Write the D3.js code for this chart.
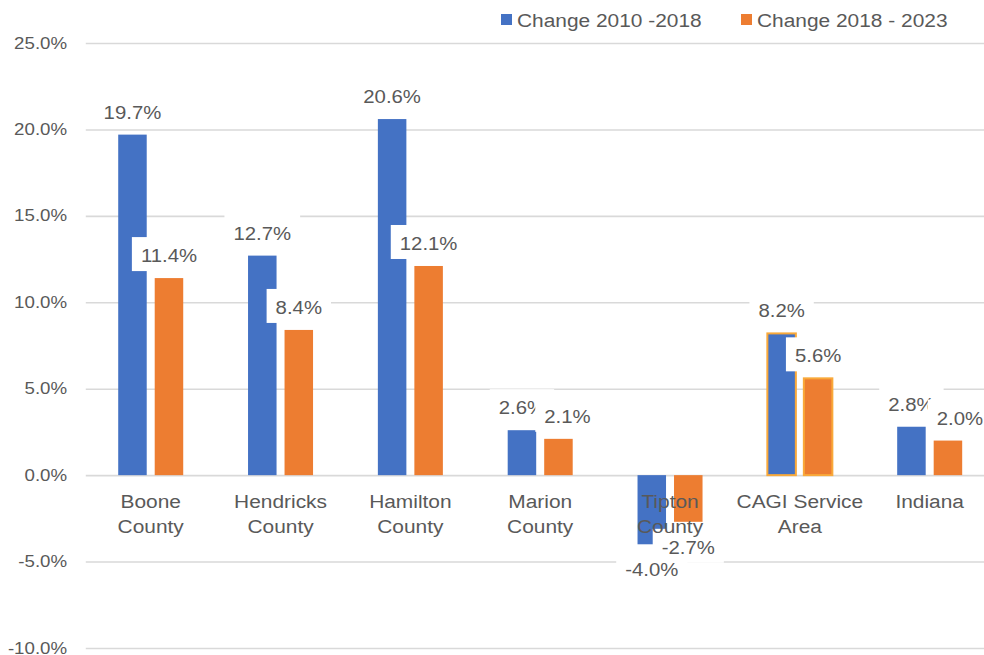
<!DOCTYPE html>
<html>
<head>
<meta charset="utf-8">
<script src="https://cdn.jsdelivr.net/npm/d3@7"></script>
<style>
  body { margin: 0; background: #fff; }
  svg text { font-family: "Liberation Sans", Arial, sans-serif; fill: #595959; }
</style>
</head>
<body>
<svg id="chart" width="984" height="655"></svg>
<script>
// chart data
const categories = ["Boone County", "Hendricks County", "Hamilton County", "Marion County", "Tipton County", "CAGI Service Area", "Indiana"];
const categoryLines = [["Boone", "County"], ["Hendricks", "County"], ["Hamilton", "County"], ["Marion", "County"], ["Tipton", "County"], ["CAGI Service", "Area"], ["Indiana"]];
const seriesNames = ["Change 2010 -2018", "Change 2018 - 2023"];
const change2010to2018 = [19.7, 12.7, 20.6, 2.6, -4.0, 8.2, 2.8];
const change2018to2023 = [11.4, 8.4, 12.1, 2.1, -2.7, 5.6, 2.0];
const yTicks = [-10, -5, 0, 5, 10, 15, 20, 25];

const colors = ["#4472C4", "#ED7D31"];
const stretch = "scale(1.1,1)";   // the original text is a bit wide

let svg = d3.select("#chart");

let y = d3.scaleLinear().domain([-10, 25]).range([648, 43]);
let x0 = d3.scaleBand().domain(categories).range([85.8, 994.6]);
let x1 = d3.scaleBand().domain(seriesNames).range([0, x0.bandwidth()])
  .paddingInner(0.219).paddingOuter(0.888);

// plain hyphen for negatives, like the original
let fmt = d => (d < 0 ? "-" : "") + Math.abs(d).toFixed(1) + "%";

// gridlines + y labels
let yAxis = svg.append("g")
  .attr("transform", "translate(85.8,0)")
  .call(d3.axisLeft(y).tickValues(yTicks).tickFormat(fmt).tickSize(-(984 - 85.8)).tickPadding(17));
yAxis.select(".domain").remove();
yAxis.selectAll(".tick line").attr("stroke", "#d9d9d9").attr("stroke-width", 1.6);
yAxis.selectAll(".tick text")
  .attr("font-size", 17)
  .attr("fill", "#595959")
  .attr("font-family", "Liberation Sans, Arial, sans-serif")
  .attr("dy", "0.3em")
  .attr("transform", stretch);

let rows = categories.map((c, i) => ({ cat: c, lines: categoryLines[i], vals: [change2010to2018[i], change2018to2023[i]] }));

// bars
let groups = svg.selectAll(".cat").data(rows).enter()
  .append("g").attr("class", "cat")
  .attr("transform", d => "translate(" + x0(d.cat) + ",0)");

groups.selectAll("rect")
  .data(d => d.vals.map((v, k) => ({ cat: d.cat, name: seriesNames[k], v: v, k: k })))
  .enter().append("rect")
  .attr("x", d => x1(d.name))
  .attr("width", x1.bandwidth())
  .attr("y", d => y(Math.max(0, d.v)))
  .attr("height", d => Math.abs(y(d.v) - y(0)))
  .attr("fill", d => colors[d.k])
  .attr("stroke", d => d.cat == "CAGI Service Area" ? "#F9A93A" : "none")
  .attr("stroke-width", 2);

// data labels (white boxes), first series then second so boxes overlap like the original
const labelShift = { "Marion County": 9, "Indiana": 12 };
seriesNames.forEach((name, k) => {
  rows.forEach(r => {
    let v = r.vals[k];
    let cx = x0(r.cat) + x1(name) + x1.bandwidth() / 2 + (k == 1 ? (labelShift[r.cat] || 0) : 0);
    let base = v >= 0 ? y(v) - 16 : y(v) + 32;
    let g = svg.append("g").attr("transform", "translate(" + cx + "," + base + ")");
    let t = g.append("text")
      .attr("text-anchor", "middle")
      .attr("font-size", 18.5)
      .attr("transform", stretch)
      .text(fmt(v));
    let w = t.node().getComputedTextLength() * 1.1;
    g.insert("rect", "text")
      .attr("x", -w / 2 - 9).attr("y", -25)
      .attr("width", w + 18).attr("height", 34)
      .attr("fill", "#fff");
  });
});

// category labels
rows.forEach(r => {
  r.lines.forEach((ln, j) => {
    svg.append("g")
      .attr("transform", "translate(" + (x0(r.cat) + x0.bandwidth() / 2) + "," + (508 + j * 25) + ")")
      .append("text")
      .attr("text-anchor", "middle")
      .attr("font-size", 19)
      .attr("transform", stretch)
      .text(ln);
  });
});

// legend
let legendX = [501, 741];
seriesNames.forEach((name, k) => {
  let lg = svg.append("g").attr("transform", "translate(" + legendX[k] + ",14)");
  lg.append("rect").attr("width", 11).attr("height", 11).attr("fill", colors[k]);
  lg.append("g").attr("transform", "translate(16,12.5)")
    .append("text")
    .attr("font-size", 19)
    .attr("transform", stretch)
    .text(name);
});
</script>
</body>
</html>
